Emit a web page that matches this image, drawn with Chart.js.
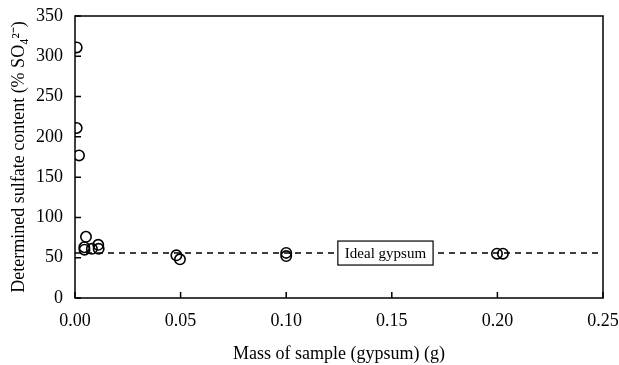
<!DOCTYPE html>
<html>
<head>
<meta charset="utf-8">
<script src="https://cdn.jsdelivr.net/npm/chart.js@4"></script>
<style>
  html, body { margin: 0; padding: 0; background: #fff; }
  #wrap { width: 619px; height: 365px; }
</style>
</head>
<body>
<div id="wrap"><canvas id="chart"></canvas></div>
<script>
// sample mass (g) and determined sulfate (% SO4 2-)
const massValues = [0.0008, 0.0008, 0.0019, 0.0052, 0.0044, 0.0045, 0.0080, 0.0110, 0.0112, 0.048, 0.0497, 0.100, 0.100, 0.1998, 0.2026];
const sulfateValues = [311, 211, 177, 76, 63, 60, 61, 66, 61, 53, 48, 56, 52, 55, 55];
const idealValue = 55.8;
const idealLabel = 'Ideal gypsum';
const xTicks = [0, 0.05, 0.10, 0.15, 0.20, 0.25];
const yTicks = [0, 50, 100, 150, 200, 250, 300, 350];

const serif = "'Liberation Serif', 'Times New Roman', serif";

const framePlugin = {
    id: 'frame',
    afterDatasetsDraw(chart) {
        const ctx = chart.ctx;
        const a = chart.chartArea;
        const xs = chart.scales.x, ys = chart.scales.y;
        ctx.save();
        ctx.strokeStyle = '#000';
        ctx.lineWidth = 1.5;
        ctx.strokeRect(a.left, a.top, a.right - a.left, a.bottom - a.top);
        // inward tick marks
        ctx.beginPath();
        xTicks.forEach(v => {
            const px = xs.getPixelForValue(v);
            ctx.moveTo(px, a.bottom);
            ctx.lineTo(px, a.bottom - 6);
        });
        yTicks.forEach(v => {
            const py = ys.getPixelForValue(v);
            ctx.moveTo(a.left, py);
            ctx.lineTo(a.left + 6, py);
        });
        ctx.stroke();

        // label box on the ideal line
        const cx = xs.getPixelForValue(0.147);
        const cy = ys.getPixelForValue(idealValue);
        ctx.font = '15px ' + serif;
        const w = ctx.measureText(idealLabel).width + 14;
        const h = 24;
        ctx.fillStyle = '#fff';
        ctx.fillRect(cx - w / 2, cy - h / 2, w, h);
        ctx.lineWidth = 1.2;
        ctx.strokeRect(cx - w / 2, cy - h / 2, w, h);
        ctx.fillStyle = '#000';
        ctx.textAlign = 'center';
        ctx.textBaseline = 'middle';
        ctx.fillText(idealLabel, cx, cy + 1);
        ctx.restore();
    }
};

new Chart(document.getElementById('chart'), {
    type: 'scatter',
    data: {
        datasets: [{
            type: 'line',
            data: [{ x: 0, y: idealValue }, { x: 0.25, y: idealValue }],
            borderColor: '#000',
            borderWidth: 1.5,
            borderDash: [6, 5],
            pointRadius: 0,
            fill: false
        }, {
            data: massValues.map((m, i) => ({ x: m, y: sulfateValues[i] })),
            pointRadius: 5.2,
            pointBorderWidth: 1.6,
            pointBorderColor: '#000',
            pointBackgroundColor: 'rgba(255,255,255,0)',
            showLine: false
        }]
    },
    plugins: [framePlugin],
    options: {
        responsive: true,
        maintainAspectRatio: false,
        animation: false,
        layout: { padding: { top: 0, right: 0, left: 0, bottom: 0 } },
        plugins: { legend: { display: false }, tooltip: { enabled: false } },
        scales: {
            x: {
                type: 'linear',
                min: 0, max: 0.25,
                afterBuildTicks: s => { s.ticks = xTicks.map(v => ({ value: v })); },
                afterFit: s => { s.height = 67; s.paddingLeft = 0; s.paddingRight = 16; },
                grid: { display: false, drawTicks: false },
                border: { display: false },
                ticks: {
                    color: '#000',
                    padding: 12,
                    font: { family: serif, size: 18 },
                    callback: v => v.toFixed(2)
                },
                title: {
                    display: true,
                    text: 'Mass of sample (gypsum) (g)',
                    color: '#000',
                    font: { family: serif, size: 18 },
                    padding: { top: 8, bottom: 0 }
                }
            },
            y: {
                min: 0, max: 350,
                afterBuildTicks: s => { s.ticks = yTicks.map(v => ({ value: v })); },
                afterFit: s => { s.width = 75; s.paddingTop = 16; s.paddingBottom = 0; },
                grid: { display: false, drawTicks: false },
                border: { display: false },
                ticks: {
                    color: '#000',
                    padding: 12,
                    font: { family: serif, size: 18 }
                },
                title: {
                    display: true,
                    text: 'Determined sulfate content (% SO₄²⁻)',
                    color: '#000',
                    font: { family: serif, size: 18 },
                    padding: { top: 8, bottom: 0 }
                }
            }
        }
    }
});
</script>
</body>
</html>
